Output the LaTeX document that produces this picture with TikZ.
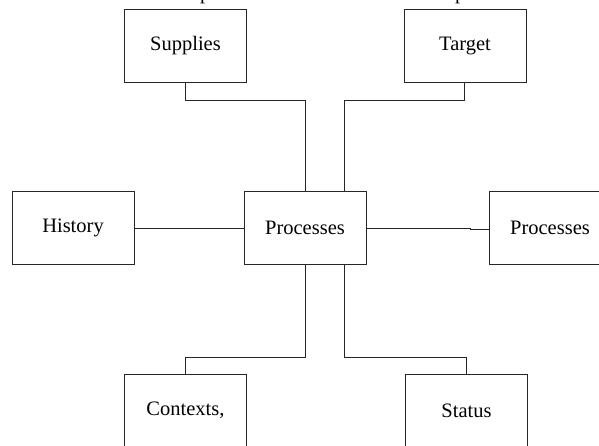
\documentclass[tikz,border=0pt]{standalone}
\usepackage{fontspec}
\setmainfont{Liberation Serif}
\begin{document}
\begin{tikzpicture}[x=1pt,y=-1pt,
  box/.style={draw=black!85,line width=0.9pt,fill=white,minimum width=122pt,minimum height=73pt,
    inner sep=0pt,font=\fontsize{20.5}{24}\selectfont},
  link/.style={draw=black!85,line width=0.8pt}]
\useasboundingbox (0,0) rectangle (599,445);
\clip (0,0) rectangle (599,445);

% caption line running off the top edge
\node[anchor=base west,inner sep=0pt,font=\fontsize{20.5}{24}\selectfont] (caption) at (-17,-0.2)
  {abstract the context of the process in the context of a complete};

% boxes
\node[box] (supplies) at (185.5,45.5) {Supplies};
\node[box] (target)   at (465,45.5)   {Target};
\node[box] (history)  at (73,228)     {History};
\node[box] (proc)     at (305,228)    {Processes};
\node[box] (procR)    at (550,228)    {Processes};
\node[box] (contexts) at (185.5,410.5) {Contexts,};
\node[box] (status)   at (466.5,410.5) {Status};

% elbow points
\coordinate (tl) at (305,100);
\coordinate (tr) at (344,100);
\coordinate (bl) at (305,357);
\coordinate (br) at (344,357);
\coordinate (jog) at (470,228);

% connectors
\draw[link] (supplies.south) |- (tl) -- (proc.north);
\draw[link] (target.south -| 464,0) |- (tr) -- (tr |- proc.north);
\draw[link] (contexts.north) |- (bl) -- (proc.south);
\draw[link] (status.north) |- (br) -- (br |- proc.south);
\draw[link] (history.east) -- (proc.west);
\draw[link] (proc.east) -- (jog) -- ++(0,1.2) -- (procR.west |- 0,229.2);
\end{tikzpicture}
\end{document}
